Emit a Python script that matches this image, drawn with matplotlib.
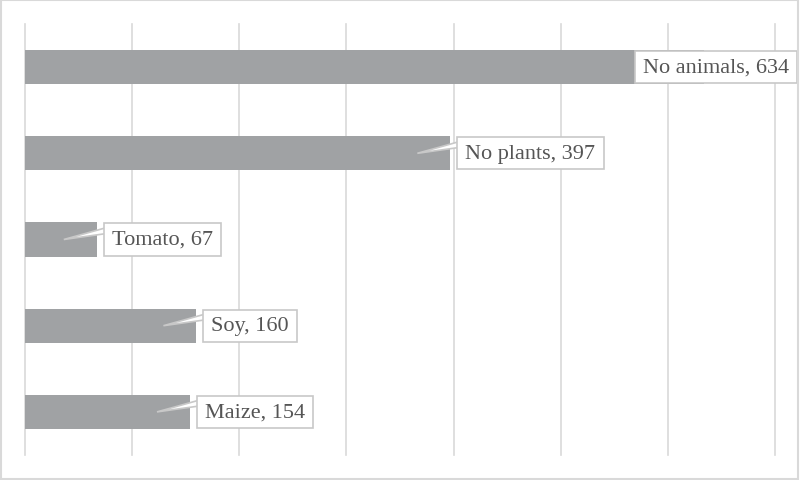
import matplotlib
matplotlib.use("Agg")
import matplotlib.pyplot as plt
from matplotlib.patches import Polygon, Rectangle

# Data (top to bottom in the picture)
categories = ["No animals", "No plants", "Tomato", "Soy", "Maize"]
values = [634, 397, 67, 160, 154]
x_ticks = [0, 100, 200, 300, 400, 500, 600, 700]

BAR_COLOR = "#A0A2A4"
GRID_COLOR = "#D9D9D9"
BOX_EDGE = "#C8C8C8"
TEXT_COLOR = "#555555"

fig = plt.figure(figsize=(8, 4.81), dpi=100)
ax = fig.add_axes([25 / 800, 25 / 481, 750 / 800, 431 / 481])

# reversed so the first category ends up on top
ypos = list(range(len(categories)))[::-1]
ax.barh(ypos, values, height=0.395, color=BAR_COLOR, zorder=2)

ax.set_xlim(x_ticks[0], x_ticks[-1])
ax.set_ylim(-0.5, len(categories) - 0.5)
ax.set_xticks(x_ticks)
ax.set_yticks([])
ax.grid(axis="x", color=GRID_COLOR, linewidth=1.2)
ax.set_axisbelow(True)
ax.tick_params(length=0, labelbottom=False)
for line in ax.get_xgridlines():
    line.set_clip_on(False)
for s in ax.spines.values():
    s.set_visible(False)

px = 72 / fig.dpi  # pixels -> points
box_style = dict(boxstyle="square,pad=0.37", mutation_aspect=0.8,
                 facecolor="white", edgecolor=BOX_EDGE, linewidth=1.2)
font = dict(fontsize=16, family="Liberation Serif", color=TEXT_COLOR)

for name, v, y in zip(categories, values, ypos):
    label = f"{name}, {v}"
    if v > 0.8 * x_ticks[-1]:
        # callout pushed back inside the chart, pointer hidden under the box
        ax.annotate(label, xy=(x_ticks[-1], y), xytext=(14 * px, 0),
                    textcoords="offset points", ha="right", va="center",
                    bbox=box_style, zorder=4, **font)
        continue

    ax.annotate(label, xy=(v, y), xytext=(15 * px, 0),
                textcoords="offset points", ha="left", va="center",
                bbox=box_style, zorder=4, **font)

    # callout pointer
    bx, by = ax.transData.transform((v, y))
    wedge = Polygon([(bx - 33, by), (bx + 10, by + 12), (bx + 10, by + 6)],
                    closed=True, transform=None, facecolor="white",
                    edgecolor=BOX_EDGE, linewidth=1.2, zorder=3)
    ax.add_artist(wedge)

# thin frame around the whole picture
fig.patches.append(Rectangle((0.001, 0.002), 0.997, 0.995, transform=fig.transFigure,
                             fill=False, edgecolor=GRID_COLOR, linewidth=1.5))

fig.savefig("out.png", dpi=100)
